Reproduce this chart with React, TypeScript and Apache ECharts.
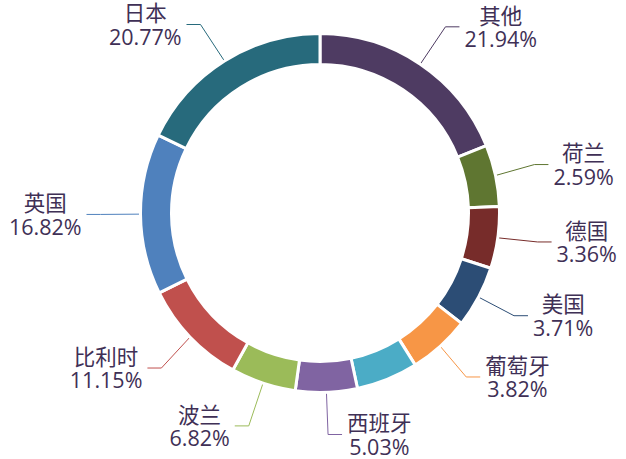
import React, { useEffect, useRef } from "react";
import * as echarts from "echarts";

const names = ["其他", "荷兰", "德国", "美国", "葡萄牙", "法国", "西班牙", "波兰", "比利时", "英国", "日本"];
const values = [21.94, 2.59, 3.36, 3.71, 3.82, 3.99, 5.03, 6.82, 11.15, 16.82, 20.77];
const colors = [
  "#4e3b62", "#5f7631", "#772c2a", "#2c4d75", "#f79646", "#4bacc6",
  "#8064a2", "#9bbb59", "#c0504d", "#4f81bd", "#276a7c",
];
const hiddenLabels = ["法国"];

const TEXT_COLOR = "#3f3056";
const FONT = "'Open Sans', 'Noto Sans CJK SC', sans-serif";
const FS = 21.5;
const LH = 23.5;

export default function App() {
  const ref = useRef<HTMLDivElement>(null);
  useEffect(() => {
    if (!ref.current) return;
    const chart = echarts.init(ref.current, undefined, { renderer: "svg" });
    const data = names.map((n, i) => {
      const hide = hiddenLabels.includes(n);
      return {
        name: n,
        value: values[i],
        itemStyle: { color: colors[i] },
        label: { show: !hide },
        labelLine: { show: !hide, lineStyle: { color: colors[i], width: 1 } },
      };
    });
    chart.setOption({
      animation: false,
      backgroundColor: "#ffffff",
      series: [
        {
          type: "pie",
          center: [320, 213],
          radius: [148.5, 179.5],
          startAngle: 90,
          clockwise: true,
          minAngle: 20,
          avoidLabelOverlap: true,
          itemStyle: { borderColor: "#ffffff", borderWidth: 3 },
          label: {
            show: true,
            position: "outside",
            overflow: "none",
            edgeDistance: 0,
            bleedMargin: 0,
            distanceToLabelLine: 5,
            fontFamily: FONT,
            fontSize: FS,
            lineHeight: LH,
            color: TEXT_COLOR,
            formatter: (p: any) => `{n|${p.name}}\n{v|${Number(p.value).toFixed(2)}%}`,
            rich: {
              n: { align: "center", fontFamily: FONT, fontSize: FS, lineHeight: LH, color: TEXT_COLOR },
              v: { align: "center", fontFamily: FONT, fontSize: FS, lineHeight: LH, color: TEXT_COLOR },
            },
          },
          labelLine: { show: true, length: 45, length2: 14, smooth: false },
          emphasis: { disabled: true },
          data,
        },
      ],
    });
    return () => chart.dispose();
  }, []);
  return (
    <div
      ref={ref}
      style={{ position: "absolute", left: 0, top: 0, width: 626, height: 459 }}
    />
  );
}
